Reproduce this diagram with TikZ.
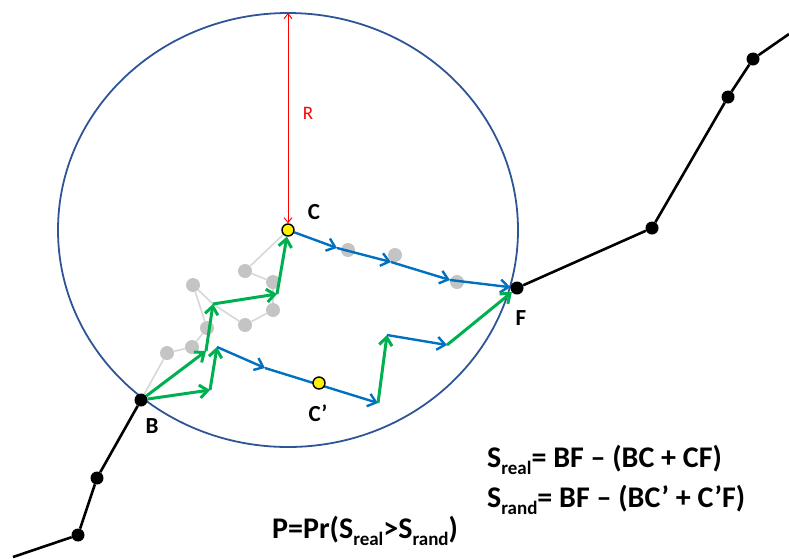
\documentclass[tikz,border=0pt]{standalone}
\usepackage{fontspec}
\setmainfont{Carlito}
\usetikzlibrary{arrows.meta}
\definecolor{realgreen}{RGB}{0,176,80}
\definecolor{randblue}{RGB}{0,112,192}
\definecolor{ringblue}{RGB}{47,85,151}
\definecolor{gpsgray}{RGB}{196,196,196}
\definecolor{gpsline}{RGB}{215,215,215}
\newcommand\lowtext[1]{\raisebox{-0.5ex}{\fontsize{19}{19}\selectfont #1}}
\pgfdeclarelayer{bg}
\pgfsetlayers{bg,main}

\begin{document}
\begin{tikzpicture}[x=1pt, y=-1pt,
    track/.style={black, line width=2.6pt},
    realarrow/.style={draw=realgreen, line width=3pt, -{Straight Barb[length=8pt,width=13pt]}},
    randarrow/.style={draw=randblue, line width=2.4pt, -{Straight Barb[length=8pt,width=13pt]}},
    gpsdot/.style={circle, fill=gpsgray, inner sep=0pt, minimum size=14pt},
    stop/.style={circle, fill=black, inner sep=0pt, minimum size=13pt},
    centre/.style={circle, draw=black, fill=yellow, line width=1.4pt, inner sep=0pt, minimum size=12pt},
    lbl/.style={font=\fontsize{23}{27}\selectfont\bfseries},
    formula/.style={font=\fontsize{30}{34}\selectfont\bfseries, anchor=base west, inner sep=0pt}
  ]
  \useasboundingbox (0,0) rectangle (789,558);

  % stops along the track
  \node[stop] (B) at (141,400) {};
  \node[stop] (F) at (517,288) {};
  \node[stop] (s1) at (97,478) {};
  \node[stop] (s2) at (78,535) {};
  \node[stop] (s3) at (652,228) {};
  \node[stop] (s4) at (728,97) {};
  \node[stop] (s5) at (753,59) {};
  \coordinate (t0) at (13,557);
  \coordinate (t1) at (789,34);

  % centres
  \node[centre] (C) at (288,230) {};
  \node[centre] (C2) at (319,383) {};
  \coordinate (top) at (288,13);

  \node[lbl] (Clbl) at (314,212) {C};
  \node[lbl] (C2lbl) at (318,413) {C’};
  \node[lbl] (Blbl) at (152,426) {B};
  \node[lbl] (Flbl) at (521,318) {F};
  \node[red, font=\fontsize{19}{22}\selectfont] (Rlbl) at (308,113) {R};

  % real path
  \coordinate (r1) at (206,351);
  \coordinate (r2) at (213,304);
  \coordinate (r3) at (277,294);
  \coordinate (b1) at (337,248);
  \coordinate (b2) at (391,262);
  \coordinate (b3) at (450,280);

  % random path
  \coordinate (q1) at (210,390);
  \coordinate (q2) at (217,347);
  \coordinate (q3) at (265,368);
  \coordinate (q4) at (378,403);
  \coordinate (q5) at (387,335);
  \coordinate (q6) at (447,345);

  \begin{pgfonlayer}{bg}
    % gps points
    \node[gpsdot] (g1) at (167,353) {};
    \node[gpsdot] (g2) at (192,347) {};
    \node[gpsdot] (g3) at (207,328) {};
    \node[gpsdot] (g4) at (193,285) {};
    \node[gpsdot] (g5) at (245,325) {};
    \node[gpsdot] (g6) at (273,310) {};
    \node[gpsdot] (g7) at (273,282) {};
    \node[gpsdot] (g8) at (245,271) {};
    \node[gpsdot] (g9) at (348,250) {};
    \node[gpsdot] (g10) at (395,255) {};
    \node[gpsdot] (g11) at (457,282) {};
    \draw[gpsline, line width=1.6pt] (B) -- (g1) -- (g2) -- (g3) -- (g4) -- (r2) -- (g5) -- (g6) -- (g7) -- (g8) -- (C);

    \draw[ringblue, line width=1.8pt] (C) ellipse [x radius=230, y radius=217];
    \draw[red, line width=0.9pt, {Straight Barb[length=5pt,width=8pt]}-{Straight Barb[length=5pt,width=8pt]}] (top) -- (C);

    \draw[track] (t0) -- (s2) -- (s1) -- (B);
    \draw[track] (F) -- (s3) -- (s4) -- (s5) -- (t1);

    \draw[realarrow] (B) -- (r1);
    \draw[realarrow] (r1) -- (r2);
    \draw[realarrow] (r2) -- (r3);
    \draw[realarrow] (r3) -- (C);
    \draw[randarrow] (C) -- (b1);
    \draw[randarrow] (b1) -- (b2);
    \draw[randarrow] (b2) -- (b3);
    \draw[randarrow] (b3) -- (F);

    \draw[realarrow] (B) -- (q1);
    \draw[realarrow] (q1) -- (q2);
    \draw[randarrow] (q2) -- (q3);
    \draw[randarrow] (q3) -- (q4);
    \draw[realarrow] (q4) -- (q5);
    \draw[randarrow] (q5) -- (q6);
    \draw[realarrow] (q6) -- (F);
  \end{pgfonlayer}

  \node[formula] (sreal) at (487,467) {S\lowtext{real}= BF – (BC + CF)};
  \node[formula] (srand) at (487,507) {S\lowtext{rand}= BF – (BC’ + C’F)};
  \node[formula] (prob) at (272,538) {P=Pr(S\lowtext{real}>S\lowtext{rand})};
\end{tikzpicture}
\end{document}
